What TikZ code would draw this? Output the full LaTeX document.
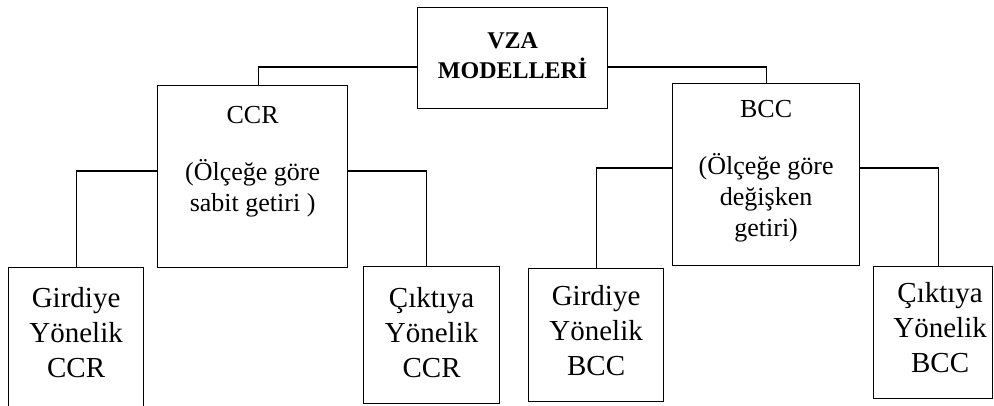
\documentclass[tikz,border=0pt]{standalone}
\usepackage{fontspec}
\setmainfont{Liberation Serif}
\usetikzlibrary{positioning}

\begin{document}
\begin{tikzpicture}[x=1pt,y=-1pt,line width=1.2pt,
        kutu/.style={draw, rectangle, inner sep=0pt, anchor=north west},
        yazi/.style={inner sep=0pt, align=center},
        ust/.style={yazi, font=\fontsize{26}{31}\selectfont},
        alt/.style={yazi, font=\fontsize{29}{35}\selectfont}]
    \useasboundingbox (0,0) rectangle (994,405);

    % kutular
    \node[kutu, minimum width=190pt, minimum height=101pt] (vza)  at (417,7)   {};
    \node[kutu, minimum width=190pt, minimum height=182pt] (ccr)  at (157,85)  {};
    \node[kutu, minimum width=187pt, minimum height=182pt] (bcc)  at (672,83)  {};
    \node[kutu, minimum width=135pt, minimum height=143pt] (gccr) at (8,267)   {};
    \node[kutu, minimum width=136pt, minimum height=137pt] (cccr) at (363,266) {};
    \node[kutu, minimum width=135pt, minimum height=133pt] (gbcc) at (528,268) {};
    \node[kutu, minimum width=119pt, minimum height=132pt] (cbcc) at (873,266) {};

    % yazilar
    \node[yazi, font=\bfseries\fontsize{24}{30}\selectfont, below=25pt of vza.north] (vzayazi) {VZA\\MODELLERİ};
    \node[ust, below=21pt of ccr.north] (ccryazi) {CCR\\[26pt](Ölçeğe göre\\sabit getiri )};
    \node[ust, below=17pt of bcc.north] (bccyazi) {BCC\\[26pt](Ölçeğe göre\\değişken\\getiri)};
    \node[alt, below=20pt of gccr.north] (gccryazi) {Girdiye\\Yönelik\\CCR};
    \node[alt, below=21pt of cccr.north] (cccryazi) {Çıktıya\\Yönelik\\CCR};
    \node[alt, below=17pt of gbcc.north] (gbccyazi) {Girdiye\\Yönelik\\BCC};
    \node[alt, below=16pt of cbcc.north, xshift=7pt] (cbccyazi) {Çıktıya\\Yönelik\\BCC};

    % baglantilar
    \draw (vza.north west) ++(0,60) -| ([xshift=6pt]ccr.north);
    \draw (vza.north east) ++(0,60) -| (bcc.north);
    \draw (ccr.north west) ++(0,86) -| (gccr.north);
    \draw (ccr.north east) ++(0,86) -| ([xshift=-5pt]cccr.north);
    \draw (bcc.north west) ++(0,85) -| (gbcc.north);
    \draw (bcc.north east) ++(0,85) -| ([xshift=5pt]cbcc.north);
\end{tikzpicture}
\end{document}
